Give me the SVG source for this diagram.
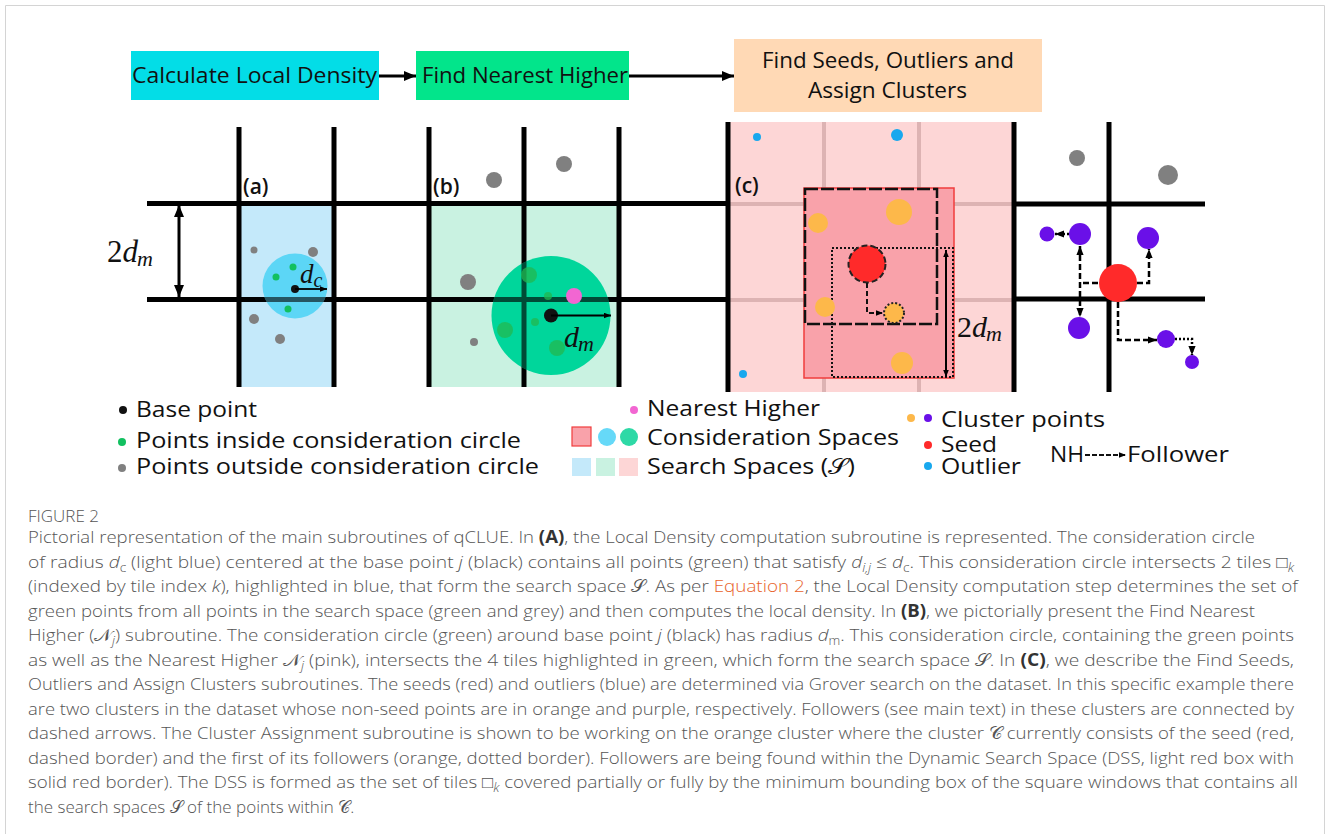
<svg xmlns="http://www.w3.org/2000/svg" width="1330" height="834" viewBox="0 0 1330 834">
  <style>
    .ui { font-family: "Open Sans", "Liberation Sans", sans-serif; fill: #111; }
    .hdr { font-size: 22px; }
    .tag { font-size: 21px; font-weight: 600; }
    .leg { font-size: 22px; }
    .mth { font-family: "Liberation Serif", "DejaVu Serif", serif; font-style: italic; fill: #111; }
    .up { font-style: normal; }
    .grid { stroke: #000; stroke-width: 5; fill: none; }
    .pgrid { stroke: #DDB3B3; stroke-width: 4; fill: none; }
    .cap { font-family: "Open Sans", "Liberation Sans", sans-serif; font-size: 17px; font-weight: 300; fill: #555; }
    .b { font-weight: 700; fill: #333; }
    .i { font-style: italic; }
    .scr { font-family: "DejaVu Serif", "DejaVu Sans", serif; font-style: normal; }
    .link { fill: #E8632B; }
    .dash { stroke: #000; stroke-width: 2.5; fill: none; stroke-dasharray: 6 3; }
    .dot { stroke: #000; stroke-width: 2.5; fill: none; stroke-dasharray: 2 2; }
    .grey { fill: #808080; }
    .grn { fill: #12C060; }
    .org { fill: #FDB84A; }
    .pur { fill: #6A10E8; }
    .blu { fill: #18A8EE; }
    .red { fill: #FF2A2A; }
  </style>
  <defs>
    <marker id="bigHead" viewBox="0 0 12 10" refX="12" refY="5" markerWidth="12" markerHeight="10" markerUnits="userSpaceOnUse" orient="auto-start-reverse">
      <path d="M0,0 L12,5 L0,10 z" fill="#000"/>
    </marker>
    <marker id="head" viewBox="0 0 10 8" refX="10" refY="4" markerWidth="9" markerHeight="8" markerUnits="userSpaceOnUse" orient="auto-start-reverse">
      <path d="M0,0 L10,4 L0,8 z" fill="#000"/>
    </marker>
    <marker id="smallHead" viewBox="0 0 10 8" refX="10" refY="4" markerWidth="7" markerHeight="6" markerUnits="userSpaceOnUse" orient="auto-start-reverse">
      <path d="M0,0 L10,4 L0,8 z" fill="#000"/>
    </marker>
    <path id="gridAB" d="M147,203.5 H728 M147,299.5 H728 M239,127 V387 M334,127 V387 M429,127 V387 M524,127 V387 M619,127 V387"/>
    <clipPath id="clipA"><circle cx="295" cy="286" r="32.5"/></clipPath>
    <clipPath id="clipB"><circle cx="551" cy="315.5" r="59.5"/></clipPath>
  </defs>

  <rect width="1330" height="834" fill="#fff"/>
  <!-- outer frame -->
  <path d="M5.5,834 V5.5 H1324.5 V834" fill="none" stroke="#d4d4d4" stroke-width="1"/>

  <!-- pipeline steps -->
  <g id="step-density">
    <rect x="131" y="51" width="248" height="49" fill="#03DDE7"/>
    <text class="ui hdr" x="132" y="83" textLength="245" lengthAdjust="spacingAndGlyphs">Calculate Local Density</text>
  </g>
  <g id="step-nearest">
    <rect x="416" y="51" width="213" height="49" fill="#02E58B"/>
    <text class="ui hdr" x="422" y="83" textLength="206" lengthAdjust="spacingAndGlyphs">Find Nearest Higher</text>
  </g>
  <g id="step-seeds">
    <rect x="734" y="39" width="308" height="73" fill="#FFD9B5"/>
    <text class="ui hdr" x="762" y="68" textLength="252" lengthAdjust="spacingAndGlyphs">Find Seeds, Outliers and</text>
    <text class="ui hdr" x="808" y="98" textLength="159" lengthAdjust="spacingAndGlyphs">Assign Clusters</text>
  </g>
  <g id="connectors">
    <line x1="379" y1="76" x2="416" y2="76" stroke="#000" stroke-width="3" marker-end="url(#bigHead)"/>
    <line x1="629" y1="76" x2="734" y2="76" stroke="#000" stroke-width="3" marker-end="url(#bigHead)"/>
  </g>

  <!-- panels (a) and (b): search-space fills, tile grid -->
  <rect x="239" y="203" width="95" height="184" fill="#C4E9FA"/>
  <rect x="429" y="203" width="190" height="184" fill="#C9F2E1"/>
  <use href="#gridAB" class="grid"/>

  <!-- tile height dimension -->
  <g id="tile-size">
    <line x1="179" y1="205" x2="179" y2="297" stroke="#000" stroke-width="3" marker-start="url(#bigHead)" marker-end="url(#bigHead)"/>
    <text class="mth" x="107" y="262" font-size="31"><tspan class="up">2</tspan>d<tspan dx="-1" dy="4" font-size="22">m</tspan></text>
  </g>

  <!-- (a) local density -->
  <g id="panel-a">
    <text class="ui tag" x="243" y="194">(a)</text>
    <circle cx="295" cy="286" r="32.5" fill="#5CD6F6"/>
    <use href="#gridAB" class="grid" clip-path="url(#clipA)" opacity="0.6"/>
    <circle class="grey" cx="254" cy="250" r="3.5"/>
    <circle class="grey" cx="313" cy="252" r="5"/>
    <circle class="grey" cx="254" cy="319" r="5"/>
    <circle class="grey" cx="280" cy="339" r="5"/>
    <circle class="grn" cx="293" cy="267" r="3.5"/>
    <circle class="grn" cx="276" cy="277" r="3.5"/>
    <circle class="grn" cx="288" cy="309" r="3.5"/>
    <circle cx="295" cy="289" r="4" fill="#111"/>
    <line x1="295" y1="289" x2="327" y2="289" stroke="#000" stroke-width="1.8" marker-end="url(#smallHead)"/>
    <text class="mth" x="300" y="283" font-size="27">d<tspan dy="4" font-size="20">c</tspan></text>
  </g>

  <!-- (b) nearest higher -->
  <g id="panel-b">
    <text class="ui tag" x="433" y="194">(b)</text>
    <circle class="grey" cx="494" cy="180" r="8"/>
    <circle class="grey" cx="564" cy="164" r="8"/>
    <circle class="grey" cx="468" cy="282" r="8"/>
    <circle class="grey" cx="474" cy="342" r="4"/>
    <circle cx="551" cy="315.5" r="59.5" fill="#00D69B"/>
    <use href="#gridAB" class="grid" clip-path="url(#clipB)" opacity="0.65"/>
    <g fill="#22B850" opacity="0.75">
      <circle cx="529" cy="275" r="8"/>
      <circle cx="548" cy="296" r="4"/>
      <circle cx="535" cy="322" r="4"/>
      <circle cx="505" cy="330" r="8"/>
      <circle cx="557" cy="348" r="8"/>
    </g>
    <circle cx="574" cy="296" r="8" fill="#F266D2"/>
    <circle cx="551" cy="315.5" r="7" fill="#111"/>
    <line x1="551" y1="315.5" x2="611" y2="315.5" stroke="#000" stroke-width="1.8" marker-end="url(#smallHead)"/>
    <text class="mth" x="564" y="347" font-size="30">d<tspan dx="-1" dy="4" font-size="22">m</tspan></text>
  </g>

  <!-- (c) seeds, outliers and cluster assignment -->
  <g id="panel-c">
    <rect x="728" y="122" width="286" height="270" fill="#FDD6D6"/>
    <path class="pgrid" d="M824,122 V392 M919,122 V392 M728,204 H1014 M728,300 H1014"/>
    <path class="grid" d="M728,122 V392 M1014,122 V392"/>
    <text class="ui tag" x="735" y="193">(c)</text>
    <circle class="blu" cx="757" cy="137" r="4"/>
    <circle class="blu" cx="897" cy="135" r="6"/>
    <circle class="blu" cx="743" cy="374" r="4"/>
    <rect id="dss" x="804" y="188" width="150" height="190" fill="#F9A2AA" stroke="#F03C3C" stroke-width="1.5"/>
    <rect x="805" y="189" width="132" height="135" fill="none" stroke="#111" stroke-width="2.5" stroke-dasharray="13 3"/>
    <rect x="832" y="248" width="121" height="129" fill="none" stroke="#111" stroke-width="2" stroke-dasharray="2 2"/>
    <circle class="org" cx="818" cy="223" r="10"/>
    <circle class="org" cx="899" cy="212" r="13"/>
    <circle class="org" cx="825" cy="307" r="10"/>
    <circle class="org" cx="902" cy="363" r="11"/>
    <circle cx="867" cy="264" r="18.5" fill="#FF2A2A" stroke="#222" stroke-width="2" stroke-dasharray="6 3"/>
    <circle cx="894" cy="313" r="10" fill="#FDB84A" stroke="#222" stroke-width="2" stroke-dasharray="2 2"/>
    <path d="M867,283 V313 H883" fill="none" stroke="#111" stroke-width="2" stroke-dasharray="5 3" marker-end="url(#smallHead)"/>
    <line x1="946" y1="250" x2="946" y2="377" stroke="#000" stroke-width="2" marker-start="url(#smallHead)" marker-end="url(#smallHead)"/>
    <text class="mth" x="957" y="337" font-size="30"><tspan class="up">2</tspan>d<tspan dx="-1" dy="4" font-size="22">m</tspan></text>
  </g>

  <!-- followers of the purple cluster -->
  <g id="panel-d">
    <path class="grid" d="M1014,204 H1205 M1014,299 H1205 M1109,122 V392"/>
    <circle class="grey" cx="1077" cy="158" r="8"/>
    <circle class="grey" cx="1168" cy="175" r="10"/>
    <path class="dash" d="M1098,283 H1080"/>
    <path class="dash" d="M1080,246 V317" marker-start="url(#head)" marker-end="url(#head)"/>
    <path class="dash" d="M1137,283 H1149 V249" marker-end="url(#head)"/>
    <path class="dash" d="M1118,302 V340 H1157" marker-end="url(#head)"/>
    <path class="dot" d="M1069,234 H1055" marker-end="url(#head)"/>
    <path class="dot" d="M1175,339 H1192 V355" marker-end="url(#head)"/>
    <circle class="pur" cx="1080" cy="234" r="11"/>
    <circle class="pur" cx="1047" cy="234" r="7.5"/>
    <circle class="pur" cx="1148" cy="238" r="11"/>
    <circle class="pur" cx="1079" cy="328" r="11"/>
    <circle class="pur" cx="1166" cy="339" r="9"/>
    <circle class="pur" cx="1192" cy="362" r="7"/>
    <circle class="red" cx="1118" cy="283" r="19"/>
  </g>

  <!-- legend -->
  <g id="legend">
    <circle cx="123" cy="410" r="4" fill="#111"/>
    <text class="ui leg" x="136" y="417" textLength="121" lengthAdjust="spacingAndGlyphs">Base point</text>
    <circle cx="122" cy="442" r="4" fill="#12C060"/>
    <text class="ui leg" x="136" y="448" textLength="385" lengthAdjust="spacingAndGlyphs">Points inside consideration circle</text>
    <circle cx="122" cy="468" r="4" fill="#808080"/>
    <text class="ui leg" x="136" y="474" textLength="403" lengthAdjust="spacingAndGlyphs">Points outside consideration circle</text>

    <circle cx="634" cy="410" r="4" fill="#F266D2"/>
    <text class="ui leg" x="647" y="416" textLength="173" lengthAdjust="spacingAndGlyphs">Nearest Higher</text>
    <rect x="572" y="427" width="19" height="19" fill="#F9A2AA" stroke="#F03C3C" stroke-width="1.2"/>
    <circle cx="607" cy="437" r="9" fill="#66D9F8"/>
    <circle cx="629" cy="437" r="9" fill="#2ED9A6"/>
    <text class="ui leg" x="647" y="445" textLength="252" lengthAdjust="spacingAndGlyphs">Consideration Spaces</text>
    <rect x="572" y="458" width="19" height="18" fill="#C4E9FA"/>
    <rect x="596" y="458" width="19" height="18" fill="#C9F2E1"/>
    <rect x="619" y="458" width="19" height="18" fill="#FDD6D6"/>
    <text class="ui leg" x="647" y="474" textLength="208" lengthAdjust="spacingAndGlyphs">Search Spaces (<tspan class="scr">𝒮</tspan>)</text>

    <circle cx="911" cy="418" r="4" fill="#FDB84A"/>
    <circle cx="928" cy="418" r="4" fill="#6A10E8"/>
    <text class="ui leg" x="941" y="427" textLength="164" lengthAdjust="spacingAndGlyphs">Cluster points</text>
    <circle cx="928" cy="445" r="4" fill="#FF2A2A"/>
    <text class="ui leg" x="941" y="452" textLength="56" lengthAdjust="spacingAndGlyphs">Seed</text>
    <circle cx="928" cy="466" r="4" fill="#18A8EE"/>
    <text class="ui leg" x="941" y="474" textLength="80" lengthAdjust="spacingAndGlyphs">Outlier</text>

    <text class="ui leg" x="1050" y="462" textLength="34" lengthAdjust="spacingAndGlyphs">NH</text>
    <line x1="1085" y1="455" x2="1126" y2="455" stroke="#111" stroke-width="2" stroke-dasharray="5 2" marker-end="url(#smallHead)"/>
    <text class="ui leg" x="1127" y="462" textLength="102" lengthAdjust="spacingAndGlyphs">Follower</text>
  </g>

  <!-- caption -->
  <g id="caption">
    <text class="cap" x="28" y="522" font-size="14" font-weight="600" fill="#666">FIGURE 2</text>
    <text class="cap" x="28" y="543" textLength="1227" lengthAdjust="spacingAndGlyphs">Pictorial representation of the main subroutines of qCLUE. In <tspan class="b">(A)</tspan>, the Local Density computation subroutine is represented. The consideration circle</text>
    <text class="cap" x="28" y="567.5" textLength="1266" lengthAdjust="spacingAndGlyphs">of radius <tspan class="i">d</tspan><tspan dy="4" font-size="12">c</tspan><tspan dy="-4"> (light blue) centered at the base point </tspan><tspan class="i">j</tspan> (black) contains all points (green) that satisfy <tspan class="i">d</tspan><tspan class="i" dy="4" font-size="12">i,j</tspan><tspan dy="-4"> ≤ </tspan><tspan class="i">d</tspan><tspan dy="4" font-size="12">c</tspan><tspan dy="-4">. This consideration circle intersects 2 tiles □</tspan><tspan class="i" dy="4" font-size="12">k</tspan></text>
    <text class="cap" x="28" y="592" textLength="1270" lengthAdjust="spacingAndGlyphs">(indexed by tile index <tspan class="i">k</tspan>), highlighted in blue, that form the search space <tspan class="scr">𝒮</tspan>. As per <tspan class="link">Equation 2</tspan>, the Local Density computation step determines the set of</text>
    <text class="cap" x="28" y="616.5" textLength="1227" lengthAdjust="spacingAndGlyphs">green points from all points in the search space (green and grey) and then computes the local density. In <tspan class="b">(B)</tspan>, we pictorially present the Find Nearest</text>
    <text class="cap" x="28" y="641" textLength="1266" lengthAdjust="spacingAndGlyphs">Higher (<tspan class="scr">𝒩</tspan><tspan class="i" dy="4" font-size="12">j</tspan><tspan dy="-4">) subroutine. The consideration circle (green) around base point </tspan><tspan class="i">j</tspan> (black) has radius <tspan class="i">d</tspan><tspan dy="4" font-size="12">m</tspan><tspan dy="-4">. This consideration circle, containing the green points</tspan></text>
    <text class="cap" x="28" y="665.5" textLength="1266" lengthAdjust="spacingAndGlyphs">as well as the Nearest Higher <tspan class="scr">𝒩</tspan><tspan class="i" dy="4" font-size="12">j</tspan><tspan dy="-4"> (pink), intersects the 4 tiles highlighted in green, which form the search space </tspan><tspan class="scr">𝒮</tspan>. In <tspan class="b">(C)</tspan>, we describe the Find Seeds,</text>
    <text class="cap" x="28" y="690" textLength="1266" lengthAdjust="spacingAndGlyphs">Outliers and Assign Clusters subroutines. The seeds (red) and outliers (blue) are determined via Grover search on the dataset. In this specific example there</text>
    <text class="cap" x="28" y="714.5" textLength="1266" lengthAdjust="spacingAndGlyphs">are two clusters in the dataset whose non-seed points are in orange and purple, respectively. Followers (see main text) in these clusters are connected by</text>
    <text class="cap" x="28" y="739" textLength="1266" lengthAdjust="spacingAndGlyphs">dashed arrows. The Cluster Assignment subroutine is shown to be working on the orange cluster where the cluster <tspan class="scr">𝒞</tspan> currently consists of the seed (red,</text>
    <text class="cap" x="28" y="763.5" textLength="1266" lengthAdjust="spacingAndGlyphs">dashed border) and the first of its followers (orange, dotted border). Followers are being found within the Dynamic Search Space (DSS, light red box with</text>
    <text class="cap" x="28" y="788" textLength="1270" lengthAdjust="spacingAndGlyphs">solid red border). The DSS is formed as the set of tiles □<tspan class="i" dy="4" font-size="12">k</tspan><tspan dy="-4"> covered partially or fully by the minimum bounding box of the square windows that contains all</tspan></text>
    <text class="cap" x="28" y="812.5">the search spaces <tspan class="scr">𝒮</tspan> of the points within <tspan class="scr">𝒞</tspan>.</text>
  </g>
</svg>
